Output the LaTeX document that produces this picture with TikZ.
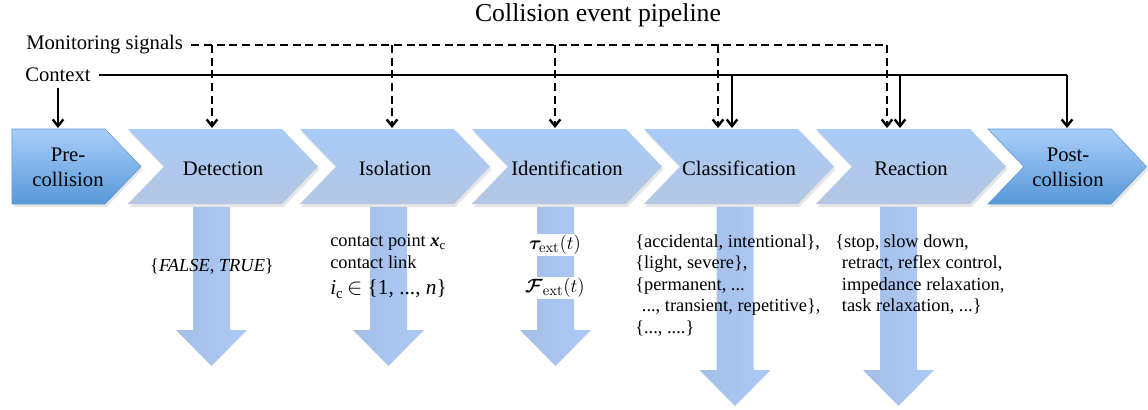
\documentclass[tikz,border=0pt]{standalone}
\usepackage{amsmath}
\usepackage{bm}
\usepackage[no-math]{fontspec}
\setmainfont{Liberation Serif}
\usetikzlibrary{arrows.meta}

\definecolor{stagetop}{RGB}{168,203,248}
\definecolor{stagebot}{RGB}{180,198,226}
\definecolor{endtop}{RGB}{168,206,250}
\definecolor{endbot}{RGB}{88,152,216}
\definecolor{endline}{RGB}{92,150,212}
\definecolor{arrowleft}{RGB}{164,190,230}
\definecolor{arrowright}{RGB}{172,202,246}

\tikzset{
  stage/.style={top color=stagetop, bottom color=stagebot},
  endstage/.style={top color=endtop, bottom color=endbot, draw=endline, line width=0.4pt},
  stageshadow/.style={fill=black, opacity=0.1},
  downarrow/.style={left color=arrowleft, right color=arrowright},
  stagetext/.style={font=\fontsize{15.5}{19}\selectfont, inner sep=0.75pt, align=center},
  sidetext/.style={font=\fontsize{15.5}{19}\selectfont, anchor=base west, inner xsep=6pt, inner ysep=4pt},
  lowtext/.style={font=\fontsize{13.8}{16.2}\selectfont, align=left, anchor=north west, inner sep=0pt},
  monline/.style={line width=1.8pt, dash pattern=on 6pt off 3.5pt},
  ctxline/.style={line width=1.8pt},
  tip/.style={-{Straight Barb[length=5pt,width=8pt,line width=1.8pt]}}
}

\begin{document}
\begin{tikzpicture}[x=0.75pt,y=0.75pt,yscale=-1,xscale=1]
\useasboundingbox (0,0) rectangle (1148,410);

% Title
\node[font=\fontsize{19.3}{23}\selectfont, anchor=base, inner sep=0.75pt] (title) at (598,22) {Collision event pipeline};

% Pre-collision
\path[stageshadow, shift={(1.5,3)}] (12,129) -- (105,129) -- (141,166.5) -- (105,204) -- (12,204) -- cycle;
\path[endstage] (12,129) -- (105,129) -- (141,166.5) -- (105,204) -- (12,204) -- cycle;
\node[stagetext] (pre) at (68,167) {Pre-\\collision};

% Chevrons
\foreach \xl/\nm/\txt in {128/det/Detection,300/iso/Isolation,472/ident/Identification,644/cls/Classification,816/react/Reaction}{
  \path[stageshadow, shift={(1.5,3)}] (\xl,129) -- ++(154,0) -- ++(36,37.5) -- ++(-36,37.5) -- ++(-154,0) -- ++(36,-37.5) -- cycle;
  \path[stage] (\xl,129) -- ++(154,0) -- ++(36,37.5) -- ++(-36,37.5) -- ++(-154,0) -- ++(36,-37.5) -- cycle;
  \node[stagetext, anchor=base] (\nm) at (\xl+95,175) {\txt};
}

% Post-collision
\path[stageshadow, shift={(1.5,3)}] (988,129) -- (1111,129) -- (1147,166.5) -- (1111,204) -- (988,204) -- (1024,166.5) -- cycle;
\path[endstage] (988,129) -- (1111,129) -- (1146.5,166.5) -- (1111,204) -- (988,204) -- (1024,166.5) -- cycle;
\node[stagetext] (post) at (1068,167) {Post-\\collision};

% Block arrows
\foreach \c/\hb in {211.5/330,388.5/330,555.5/330,735/370,898.5/370}{
  \path[downarrow] (\c-18.5,207) -- (\c+18.5,207) -- (\c+18.5,\hb) -- (\c+35.5,\hb) -- (\c,\hb+36) -- (\c-35.5,\hb) -- (\c-18.5,\hb) -- cycle;
}

% Inputs
\node[sidetext] (mon) at (18,50) {Monitoring signals};
\node[sidetext] (ctx) at (17,82) {Context};

\coordinate (monend) at (887,45);
\coordinate (ctxend) at (1067,75);
\coordinate (prein) at (58,128);
\coordinate (detin) at (212,128);
\coordinate (isoin) at (392,128);
\coordinate (identin) at (555,128);
\coordinate (clsmon) at (718,128);
\coordinate (clsctx) at (732,128);
\coordinate (reactmon) at (887,128);
\coordinate (reactctx) at (900,128);
\coordinate (postin) at (1067,128);

% Monitoring signals
\draw[monline] (mon.east |- monend) -- (monend);
\draw[monline, tip] (monend) -- (reactmon);
\draw[monline, tip] (detin |- monend) -- (detin);
\draw[monline, tip] (isoin |- monend) -- (isoin);
\draw[monline, tip] (identin |- monend) -- (identin);
\draw[monline, tip] (clsmon |- monend) -- (clsmon);

% Context
\draw[ctxline] (ctx.east |- ctxend) -- (ctxend);
\draw[ctxline, tip] (ctxend) -- (postin);
\draw[ctxline, tip] (clsctx |- ctxend) -- (clsctx);
\draw[ctxline, tip] (reactctx |- ctxend) -- (reactctx);
\draw[ctxline, tip] (ctx.south -| prein) -- (prein);

% Outputs
\node[font=\fontsize{13.8}{16.2}\selectfont, inner sep=0.75pt] (detout) at (212,267) {\{\textit{FALSE}, \textit{TRUE}\}};
\node[lowtext] (isoout) at (330,234) {contact point \textbf{\textit{x}}\textsubscript{c}\\contact link\\[4pt]{\fontsize{16}{18}\selectfont\textit{i}\textsubscript{c}\,$\in$ \{1, ..., \textit{n}\}}};
\node[fill=white, inner sep=1pt, font=\fontsize{15}{18}\selectfont] (tauout) at (555,245) {$\bm{\tau}_{\mathrm{ext}}(t)$};
\node[fill=white, inner sep=1pt, font=\fontsize{15}{18}\selectfont] (fout) at (555,288) {$\bm{\mathcal{F}}_{\mathrm{ext}}(t)$};
\node[lowtext] (clsout) at (635,234) {\{accidental, intentional\},\\\{light, severe\},\\\{permanent, ...\\\hspace*{5pt}..., transient, repetitive\},\\\{..., ....\}};
\node[lowtext] (reactout) at (835,234) {\{stop, slow down,\\\hspace*{5pt}retract, reflex control,\\\hspace*{5pt}impedance relaxation,\\\hspace*{5pt}task relaxation, ...\}};

\end{tikzpicture}
\end{document}
